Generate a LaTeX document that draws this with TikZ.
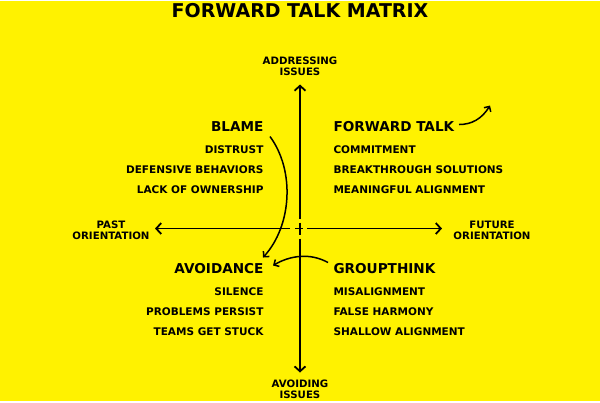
\documentclass[tikz,border=0pt]{standalone}
\usepackage{fontspec}
\setmainfont{DejaVu Sans}[UprightFont=* Bold]
\usetikzlibrary{arrows.meta}
\definecolor{bg}{HTML}{FFF200}
\begin{document}
\begin{tikzpicture}[x=1pt,y=-1pt,
  ax/.style={line width=1.8pt,-{Straight Barb[length=5pt,width=11pt]}},
  cv/.style={line width=1.5pt,-{Straight Barb[length=4pt,width=8pt]}},
  hd/.style={font=\fontsize{13.6}{14}\selectfont},
  it/.style={font=\fontsize{10.5}{11}\selectfont},
  lb/.style={font=\fontsize{10.2}{11.5}\selectfont,align=center}]
\fill[bg] (0,0) rectangle (600,400);
\node[font=\fontsize{19}{19}\selectfont] (title) at (300,10) {FORWARD TALK MATRIX};
\coordinate (t) at (300,84); \coordinate (b) at (300,372);
\coordinate (l) at (155,228); \coordinate (r) at (442,228);
\draw[ax] (300,218) -- (t);
\draw[ax] (300,238) -- (b);
\draw[ax] (290,228) -- (l);
\draw[ax] (307,228) -- (r);
\draw[line width=1.8pt] (300,222) -- (300,234);
\draw[line width=1.8pt] (295,228) -- (303,228);
\node[lb] (ai) at (300,66) {ADDRESSING\\ISSUES};
\node[lb] (av) at (300,389) {AVOIDING\\ISSUES};
\node[lb] (po) at (111,230) {PAST\\ORIENTATION};
\node[lb] (fo) at (492,230) {FUTURE\\ORIENTATION};
\node[hd,anchor=east] (blame) at (267,126) {BLAME};
\node[it,anchor=east] (l1) at (267,149) {DISTRUST};
\node[it,anchor=east] (l2) at (267,169) {DEFENSIVE BEHAVIORS};
\node[it,anchor=east] (l3) at (267,189) {LACK OF OWNERSHIP};
\node[hd,anchor=west] (ft) at (330,126) {FORWARD TALK};
\node[it,anchor=west] (r1) at (330,149) {COMMITMENT};
\node[it,anchor=west] (r2) at (330,169) {BREAKTHROUGH SOLUTIONS};
\node[it,anchor=west] (r3) at (330,189) {MEANINGFUL ALIGNMENT};
\node[hd,anchor=east] (avo) at (267,268) {AVOIDANCE};
\node[it,anchor=east] (b1) at (267,291) {SILENCE};
\node[it,anchor=east] (b2) at (267,311) {PROBLEMS PERSIST};
\node[it,anchor=east] (b3) at (267,331) {TEAMS GET STUCK};
\node[hd,anchor=west] (gt) at (330,268) {GROUPTHINK};
\node[it,anchor=west] (g1) at (330,291) {MISALIGNMENT};
\node[it,anchor=west] (g2) at (330,311) {FALSE HARMONY};
\node[it,anchor=west] (g3) at (330,331) {SHALLOW ALIGNMENT};
\coordinate (fte) at (490,105);
\draw[cv] (270,136) .. controls (295,170) and (292,225) .. (263,257);
\draw[cv] (328,262) .. controls (310,252) and (290,255) .. (273,265);
\draw[cv] (459,124) .. controls (472,124) and (482,118) .. (fte);
\end{tikzpicture}
\end{document}
